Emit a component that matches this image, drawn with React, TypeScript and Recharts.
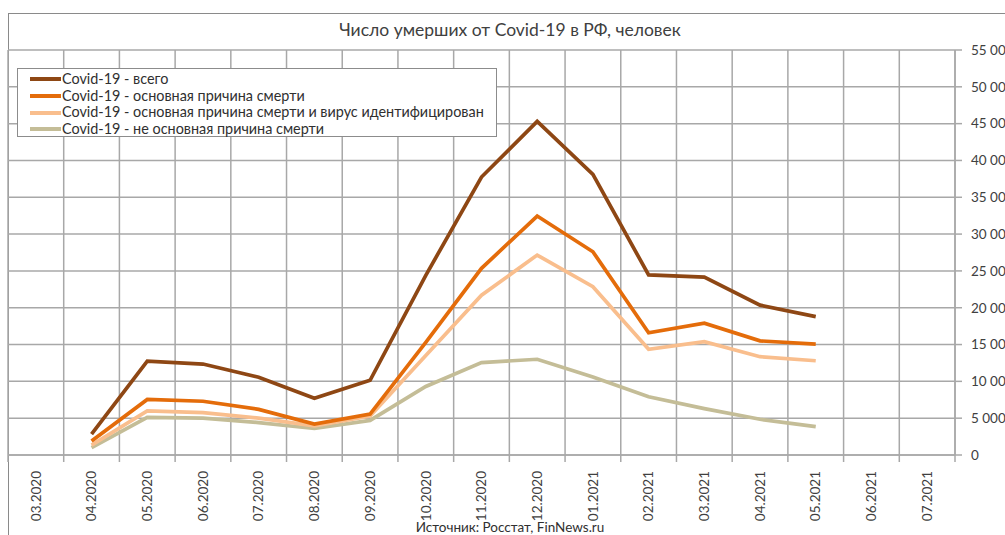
import { LineChart, Line, XAxis, YAxis, CartesianGrid } from 'recharts'

const months = [
  '03.2020', '04.2020', '05.2020', '06.2020', '07.2020', '08.2020', '09.2020', '10.2020', '11.2020',
  '12.2020', '01.2021', '02.2021', '03.2021', '04.2021', '05.2021', '06.2021', '07.2021',
]
const total = [null, 2850, 12750, 12350, 10550, 7700, 10150, 24400, 37750, 45300, 38100, 24450, 24150, 20350, 18800, null, null]
const mainCause = [null, 1900, 7550, 7300, 6200, 4200, 5550, 15300, 25350, 32450, 27600, 16600, 17900, 15500, 15050, null, null]
const mainConfirmed = [null, 1350, 6000, 5750, 5000, 3950, 5300, 13500, 21700, 27150, 22850, 14350, 15400, 13350, 12800, null, null]
const notMain = [null, 1000, 5100, 5000, 4400, 3600, 4700, 9300, 12550, 13000, 10600, 7900, 6300, 4850, 3850, null, null]
const yTicks = [0, 5000, 10000, 15000, 20000, 25000, 30000, 35000, 40000, 45000, 50000, 55000]

const SERIES = [
  { key: 'total', name: 'Covid-19 - всего', color: '#8e4714' },
  { key: 'mainCause', name: 'Covid-19 - основная причина смерти', color: '#e46c0a' },
  { key: 'mainConfirmed', name: 'Covid-19 - основная причина смерти и вирус идентифицирован', color: '#f9be8d' },
  { key: 'notMain', name: 'Covid-19 - не основная причина смерти', color: '#c4bd97' },
]

const data = months.map((m, i) => ({
  month: m,
  total: total[i],
  mainCause: mainCause[i],
  mainConfirmed: mainConfirmed[i],
  notMain: notMain[i],
}))

const W = 1005
const H = 535
const MARGIN = { top: 50, right: 0, bottom: 0, left: 8 }
const Y_W = 50
const PLOT_W = W - MARGIN.left - MARGIN.right - Y_W
const BAND = PLOT_W / months.length
const FONT = 'Lato, "Open Sans", sans-serif'
const GRID = '#a8a8a8'

const fmt = (v: number) => String(v).replace(/\B(?=(\d{3})+(?!\d))/g, ' ')

// eslint-disable-next-line @typescript-eslint/no-explicit-any
const MonthTick = (p: any) => {
  const { x, y, payload, index } = p
  return (
    <g>
      <line x1={x - BAND / 2} x2={x - BAND / 2} y1={y - 8} y2={y - 1} stroke={GRID} strokeWidth={1.5} />
      {index === months.length - 1 && (
        <line x1={x + BAND / 2} x2={x + BAND / 2} y1={y - 8} y2={y - 1} stroke={GRID} strokeWidth={1.5} />
      )}
      <g transform={`translate(${x},${y + 8})`}>
        <text transform="rotate(-90)" textAnchor="end" dy="0.35em" fontSize={13.5} fill="#404040" fontFamily={FONT}>
          {payload.value}
        </text>
      </g>
    </g>
  )
}

export default function App() {
  return (
    <div style={{ position: 'fixed', left: 0, top: 0, width: W, height: H, overflow: 'hidden', background: '#fff' }}>
      {/* рамка диаграммы */}
      <div style={{ position: 'absolute', left: 8, top: 13, width: 1100, height: 700, border: '1px solid #8a8a8a' }} />
      <div
        style={{
          position: 'absolute', left: 0, width: 1020, top: 19, textAlign: 'center',
          fontFamily: FONT, fontSize: 17.5, color: '#404040',
        }}
      >
        Число умерших от Covid-19 в РФ, человек
      </div>
      <div style={{ position: 'absolute', left: 0, top: 0 }}>
        <LineChart width={W} height={H} data={data} margin={MARGIN}>
          <CartesianGrid
            stroke={GRID}
            strokeWidth={1.5}
            verticalCoordinatesGenerator={({ offset }: any) =>
              months.map((_, i) => offset.left + (i * offset.width) / months.length).concat(offset.left + offset.width)
            }
          />
          <XAxis
            dataKey="month"
            interval={0}
            height={80}
            padding={{ left: BAND / 2, right: BAND / 2 }}
            axisLine={{ stroke: GRID, strokeWidth: 1.5 }}
            tickLine={false}
            tick={<MonthTick />}
          />
          <YAxis
            orientation="right"
            domain={[0, 55000]}
            ticks={yTicks}
            interval={0}
            width={Y_W}
            tickFormatter={fmt}
            axisLine={{ stroke: GRID, strokeWidth: 1.5 }}
            tickLine={{ stroke: GRID, strokeWidth: 1.5 }}
            tickSize={7}
            tickMargin={9}
            tick={{ fontSize: 13.5, fill: '#404040', fontFamily: FONT, textAnchor: 'start' }}
          />
          {[...SERIES].reverse().map((s) => (
            <Line
              key={s.key}
              type="linear"
              dataKey={s.key}
              name={s.name}
              stroke={s.color}
              strokeWidth={3.7}
              dot={false}
              activeDot={false}
              isAnimationActive={false}
            />
          ))}
        </LineChart>
      </div>
      {/* легенда */}
      <div
        style={{
          position: 'absolute', left: 17, top: 68, width: 480, height: 69,
          border: '1px solid #8c8c8c', background: '#fff', padding: '2px 0 0 12px', boxSizing: 'border-box',
          fontFamily: FONT, fontSize: 14.4, color: '#303030', lineHeight: '16.7px',
        }}
      >
        {SERIES.map((s) => (
          <div key={s.key} style={{ display: 'flex', alignItems: 'center', whiteSpace: 'nowrap' }}>
            <span style={{ display: 'inline-block', width: 31, height: 4, background: s.color, marginRight: 1 }} />
            {s.name}
          </div>
        ))}
      </div>
      <div
        style={{
          position: 'absolute', left: 0, width: 1020, top: 519, textAlign: 'center',
          fontFamily: FONT, fontSize: 13.5, color: '#303030',
        }}
      >
        Источник: Росстат, FinNews.ru
      </div>
    </div>
  )
}
